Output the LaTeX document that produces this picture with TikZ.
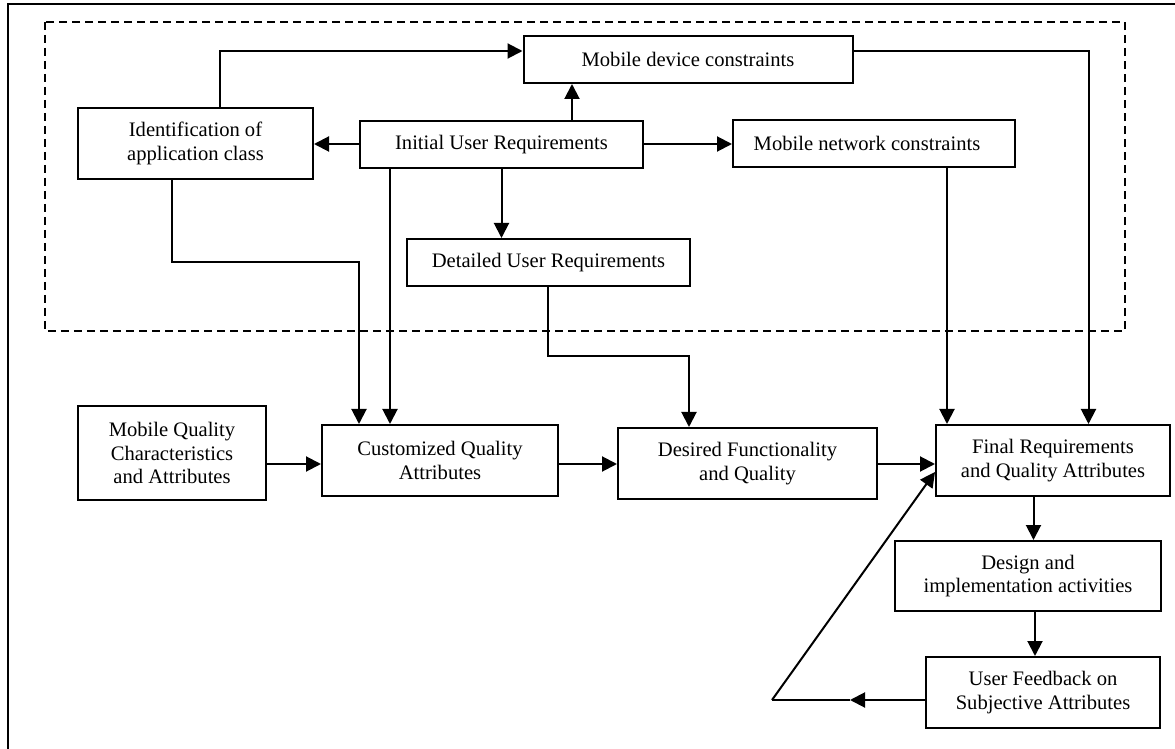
\documentclass[tikz,border=0pt]{standalone}
\usepackage{fontspec}
\setmainfont{Liberation Serif}
\usetikzlibrary{arrows.meta}
\begin{document}
\begin{tikzpicture}[x=0.5pt,y=-0.5pt,
  box/.style={draw,line width=1pt,inner sep=0pt,align=center,
    font=\fontsize{10.3}{11.7}\selectfont},
  arr/.style={line width=1pt,-{Triangle[length=7.5pt,width=7.5pt]}},
  ln/.style={line width=1pt}]
\useasboundingbox (0,0) rectangle (1175,749);
% outer frame
\draw[line width=1.2pt] (8,749) -- (8,4) -- (1175,4);
% dashed region
\draw[line width=0.8pt,dash pattern=on 4pt off 2.5pt] (45,22) rectangle (1125,331);
% nodes
\node[box,minimum width=117.5pt,minimum height=35.5pt] (ident) at (195.5,143.5) {Identification of\\application class};
\node[box,minimum width=164.5pt,minimum height=23.5pt] (mdev) at (688,59.5) {Mobile device constraints};
\node[box,minimum width=141.5pt,minimum height=23.5pt] (init) at (501.5,144.5) {Initial User Requirements};
\node[box,minimum width=141pt,minimum height=23.5pt] (mnet) at (874,143.5) {Mobile network constraints\hspace*{7pt}};
\node[box,minimum width=141.5pt,minimum height=23.5pt] (det) at (548.5,262.5) {Detailed User Requirements};
\node[box,minimum width=94pt,minimum height=47pt] (mqc) at (172,453) {Mobile Quality\\Characteristics\\and Attributes};
\node[box,minimum width=118pt,minimum height=35.5pt] (cust) at (440,460.5) {Customized Quality\\Attributes};
\node[box,minimum width=129.5pt,minimum height=35.5pt] (des) at (747.5,463.5) {Desired Functionality\\and Quality};
\node[box,minimum width=117pt,minimum height=35.5pt] (fin) at (1053,460.5) {Final Requirements\\and Quality Attributes};
\node[box,minimum width=133pt,minimum height=35pt] (dsn) at (1028,576) {Design and\\implementation activities};
\node[box,minimum width=117pt,minimum height=35.5pt] (uf) at (1043,692.5) {User Feedback on\\Subjective Attributes};
% helper coordinates
\coordinate (c1) at (220,51);
\coordinate (c2) at (1088.5,51);
\coordinate (xm) at (572,0);
\coordinate (xn) at (947,0);
\coordinate (xc) at (390,0);
\coordinate (c5) at (172,262);
\coordinate (c6) at (359,262);
\coordinate (c7) at (548,356);
\coordinate (c8) at (689,356);
\coordinate (yr) at (0,464);
\coordinate (yi) at (0,144);
\coordinate (xf) at (1033.5,0);
\coordinate (xd) at (1035,0);
\coordinate (yu) at (0,700);
\coordinate (mid) at (850,700);
\coordinate (corner) at (772,700);
\coordinate (yfb) at (0,472);
% connectors
\draw[arr] (init.west |- yi) -- (ident.east |- yi);
\draw[arr] (init.east |- yi) -- (mnet.west |- yi);
\draw[arr] (init.north -| xm) -- (mdev.south -| xm);
\draw[arr] (ident.north -| c1) -- (c1) -- (c1 -| mdev.west);
\draw[arr] (c2 -| mdev.east) -- (c2) -- (c2 |- fin.north);
\draw[arr] (mnet.south -| xn) -- (fin.north -| xn);
\draw[arr] (init.south) -- (init.south |- det.north);
\draw[arr] (init.south -| xc) -- (cust.north -| xc);
\draw[arr] (ident.south -| c5) -- (c5) -- (c6) -- (cust.north -| c6);
\draw[arr] (det.south -| c7) -- (c7) -- (c8) -- (des.north -| c8);
\draw[arr] (mqc.east |- yr) -- (cust.west |- yr);
\draw[arr] (cust.east |- yr) -- (des.west |- yr);
\draw[arr] (des.east |- yr) -- (fin.west |- yr);
\draw[arr] (fin.south -| xf) -- (dsn.north -| xf);
\draw[arr] (dsn.south -| xd) -- (uf.north -| xd);
\draw[arr] (uf.west |- yu) -- (mid);
\draw[ln] (mid) -- (corner);
\draw[arr] (corner) -- (fin.west |- yfb);
\end{tikzpicture}
\end{document}
